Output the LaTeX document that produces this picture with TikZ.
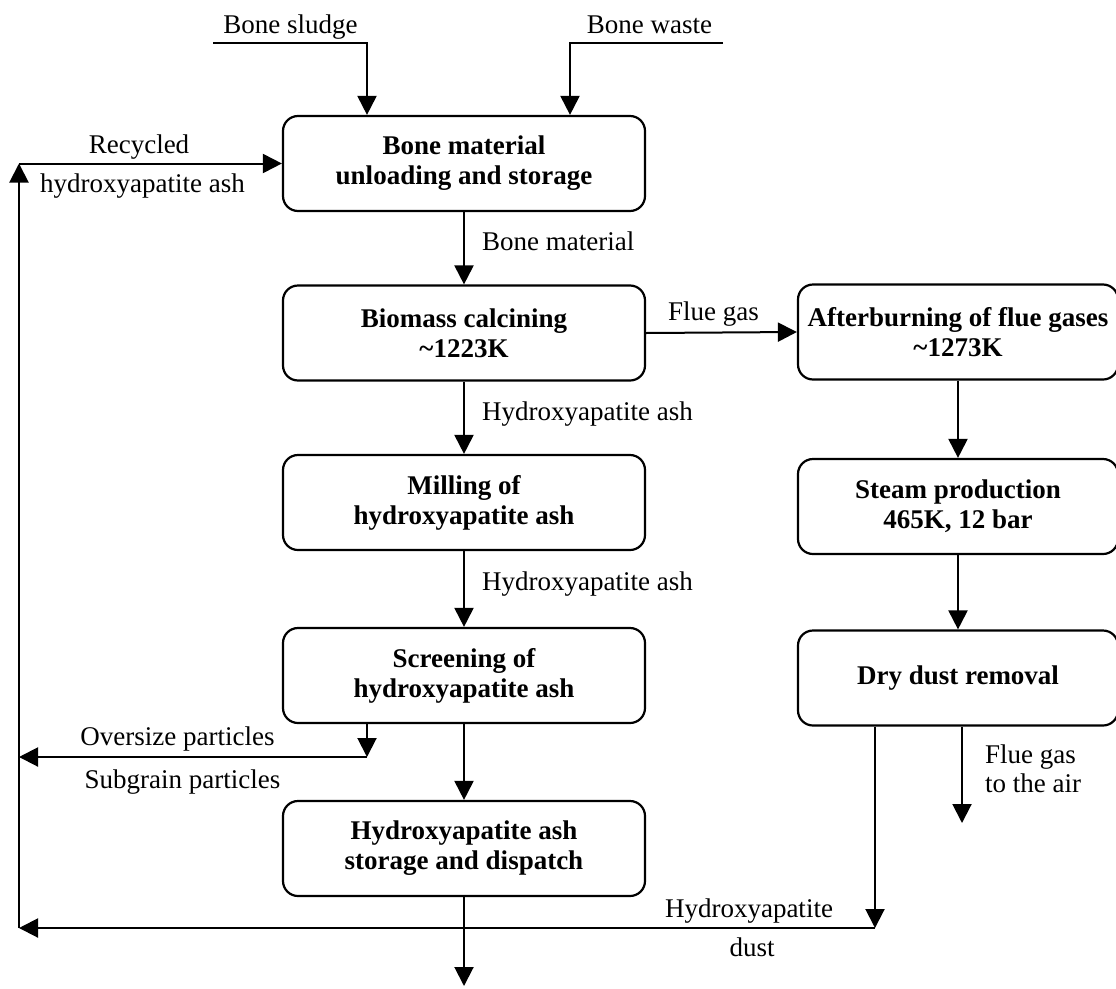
\documentclass[tikz,border=0pt]{standalone}
\usepackage{fontspec}
\setmainfont{Liberation Serif}
\usetikzlibrary{arrows.meta}
\begin{document}
\begin{tikzpicture}[x=1pt,y=-1pt,
  box/.style={draw, line width=2.2pt, rounded corners=15pt, minimum width=362pt, minimum height=95pt,
    inner sep=0pt, align=center, font=\bfseries\fontsize{27}{30}\selectfont},
  rbox/.style={box, minimum width=320pt},
  lab/.style={font=\fontsize{27}{29}\selectfont, inner sep=0pt},
  arr/.style={line width=2pt, -{Triangle[length=19pt,width=19pt]}}]
\useasboundingbox (0,0) rectangle (1116,988);
\clip (0,0) rectangle (1116,988);

% process boxes
\node[box] (b1) at (464,163.5) {Bone material\\unloading and storage};
\node[box] (b2) at (464,333) {Biomass calcining\\\textasciitilde1223K};
\node[box] (b3) at (464,502.5) {Milling of\\hydroxyapatite ash};
\node[box] (b4) at (464,675.5) {Screening of\\hydroxyapatite ash};
\node[box] (b5) at (464,848.5) {Hydroxyapatite ash\\storage and dispatch};
\node[rbox] (r1) at (958,332) {Afterburning of flue gases\\\textasciitilde1273K};
\node[rbox] (r2) at (958,506.5) {Steam production\\465K, 12 bar};
\node[rbox] (r3) at (958,678) {Dry dust removal};

% free ends
\coordinate (bs) at (213,43);
\coordinate (bw) at (723,43);
\coordinate (lt) at (19,163.5);
\coordinate (lb) at (19,928);
\coordinate (ov) at (367,757);
\coordinate (ovl) at (19,757);
\coordinate (dd) at (875,928);
\coordinate (out) at (464,986);
\coordinate (air) at (962,823);

% inputs
\draw[arr] (bs) -| ([xshift=-97pt]b1.north);
\draw[arr] (bw) -| ([xshift=106pt]b1.north);
\draw[arr] (lb) -- (lt);
\draw[arr] (lt) -- (b1.west);

% main chain
\draw[arr] (b1) -- (b2);
\draw[arr] (b2) -- (b3);
\draw[arr] (b3) -- (b4);
\draw[arr] (b4) -- (b5);
\draw[arr] (b5) -- (out);
\draw[arr] (b2.east) -- (r1.west);
\draw[arr] (r1) -- (r2);
\draw[arr] (r2) -- (r3);

% screening side stream
\draw[arr] ([xshift=-97pt]b4.south) -- (ov);
\draw[arr] (ov) -- (ovl);

% dust removal outputs
\draw[arr] ([xshift=-83pt]r3.south) -- (dd);
\draw[arr] (dd) -- (lb);
\draw[arr] ([xshift=4pt]r3.south) -- (air);

% labels
\node[lab, anchor=base] (tbs) at (290.5,33) {Bone sludge};
\node[lab, anchor=base] (tbw) at (649.5,33) {Bone waste};
\node[lab, anchor=base] (trc) at (139,153) {Recycled};
\node[lab, anchor=base] (tha) at (142.5,192) {hydroxyapatite ash};
\node[lab, anchor=base west] (tbm) at (482,250) {Bone material};
\node[lab, anchor=base] (tfg) at (713.5,320) {Flue gas};
\node[lab, anchor=base west] (th1) at (482,420) {Hydroxyapatite ash};
\node[lab, anchor=base west] (th2) at (482,590) {Hydroxyapatite ash};
\node[lab, anchor=base] (tos) at (177.5,745) {Oversize particles};
\node[lab, anchor=base] (tsg) at (182.5,788) {Subgrain particles};
\node[lab, anchor=base west] (tfa1) at (985,763) {Flue gas};
\node[lab, anchor=base west] (tfa2) at (985,792) {to the air};
\node[lab, anchor=base] (thd1) at (749,917) {Hydroxyapatite};
\node[lab, anchor=base] (thd2) at (752,956) {dust};
\end{tikzpicture}
\end{document}
